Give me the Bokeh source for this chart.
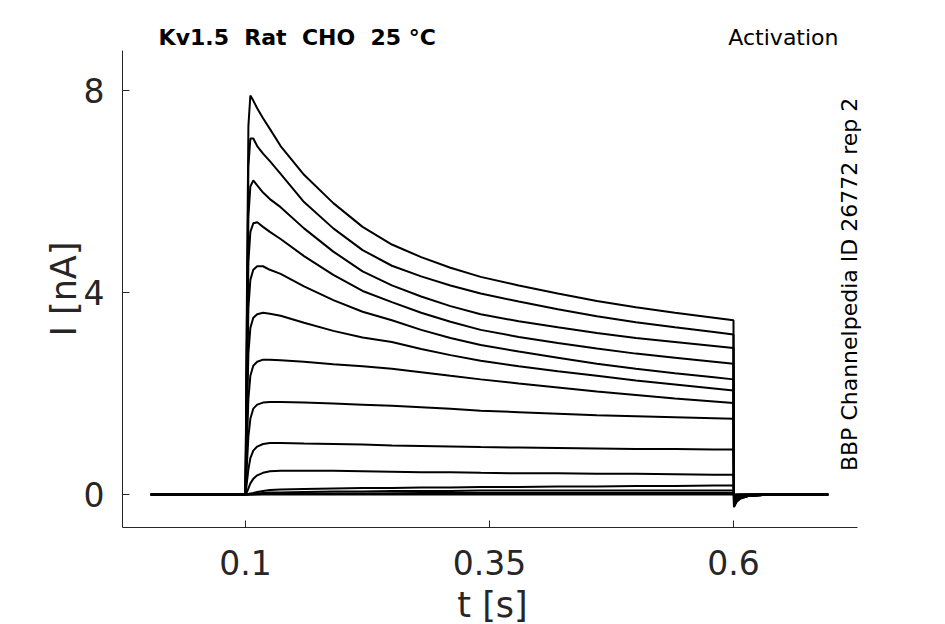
from bokeh.plotting import figure
from bokeh.models import Range1d, Label, FixedTicker
from bokeh.layouts import column
from bokeh.embed import file_html
from bokeh.resources import INLINE
import math

# time grid (s)
T_GRID = [0.003, 0.1, 0.1015, 0.103, 0.105, 0.108, 0.112, 0.118, 0.125, 0.136,
          0.16, 0.19, 0.22, 0.25, 0.28, 0.31, 0.341, 0.38, 0.42, 0.46,
          0.5, 0.54, 0.58, 0.6, 0.6005, 0.603, 0.607, 0.615, 0.63, 0.697]

# current traces (nA)
T1 = [0, 0, 4.0, 7.3, 7.9, 7.8, 7.65, 7.45, 7.24, 6.9, 6.33, 5.77, 5.30, 4.95, 4.70, 4.49, 4.31, 4.14, 3.98, 3.83, 3.71, 3.60, 3.50, 3.45, -0.25, -0.15, -0.08, -0.03, -0.01, 0]
T2 = [0, 0, 3.5, 6.5, 7.05, 7.05, 6.9, 6.75, 6.6, 6.35, 5.79, 5.27, 4.84, 4.53, 4.32, 4.14, 3.98, 3.82, 3.67, 3.53, 3.41, 3.31, 3.22, 3.17, -0.24, -0.14, -0.08, -0.03, -0.01, 0]
T3 = [0, 0, 3.0, 5.5, 6.1, 6.22, 6.12, 5.98, 5.85, 5.69, 5.27, 4.81, 4.42, 4.14, 3.92, 3.73, 3.57, 3.43, 3.31, 3.20, 3.10, 3.02, 2.94, 2.90, -0.22, -0.13, -0.07, -0.03, -0.01, 0]
T4 = [0, 0, 2.5, 4.6, 5.2, 5.37, 5.39, 5.3, 5.2, 5.06, 4.72, 4.35, 4.03, 3.81, 3.60, 3.42, 3.26, 3.12, 3.00, 2.89, 2.79, 2.71, 2.63, 2.59, -0.2, -0.12, -0.06, -0.02, -0.01, 0]
T5 = [0, 0, 2.0, 3.7, 4.25, 4.45, 4.52, 4.52, 4.45, 4.37, 4.12, 3.85, 3.62, 3.45, 3.26, 3.10, 2.96, 2.83, 2.71, 2.59, 2.49, 2.40, 2.32, 2.28, -0.18, -0.1, -0.05, -0.02, -0.01, 0]
T6 = [0, 0, 1.5, 2.8, 3.3, 3.5, 3.57, 3.6, 3.58, 3.54, 3.4, 3.24, 3.11, 3.02, 2.88, 2.76, 2.65, 2.54, 2.44, 2.35, 2.26, 2.18, 2.10, 2.06, -0.16, -0.09, -0.05, -0.02, -0.01, 0]
T7 = [0, 0, 1.0, 1.9, 2.35, 2.55, 2.63, 2.67, 2.67, 2.66, 2.63, 2.58, 2.54, 2.49, 2.42, 2.35, 2.28, 2.20, 2.12, 2.04, 1.97, 1.90, 1.84, 1.81, -0.14, -0.08, -0.04, -0.02, 0, 0]
T8 = [0, 0, 0.6, 1.15, 1.5, 1.7, 1.78, 1.82, 1.83, 1.83, 1.82, 1.8, 1.78, 1.76, 1.73, 1.7, 1.66, 1.63, 1.6, 1.57, 1.55, 1.53, 1.51, 1.50, -0.12, -0.07, -0.04, -0.01, 0, 0]
T9 = [0, 0, 0.25, 0.5, 0.72, 0.87, 0.95, 1.0, 1.02, 1.02, 1.01, 1.0, 0.99, 0.97, 0.96, 0.95, 0.94, 0.93, 0.92, 0.91, 0.9, 0.9, 0.89, 0.89, -0.08, -0.05, -0.03, -0.01, 0, 0]
T10 = [0, 0, 0.05, 0.12, 0.22, 0.31, 0.38, 0.43, 0.46, 0.47, 0.47, 0.47, 0.46, 0.45, 0.44, 0.44, 0.43, 0.42, 0.42, 0.41, 0.41, 0.40, 0.39, 0.39, -0.05, -0.03, -0.02, -0.01, 0, 0]
T11 = [0, 0, 0.005, 0.01, 0.02, 0.03, 0.05, 0.07, 0.09, 0.1, 0.11, 0.12, 0.13, 0.13, 0.14, 0.14, 0.15, 0.15, 0.16, 0.16, 0.17, 0.17, 0.18, 0.18, -0.03, -0.02, -0.01, 0, 0, 0]
T12 = [0, 0, 0, 0, 0.005, 0.01, 0.02, 0.03, 0.04, 0.04, 0.05, 0.06, 0.06, 0.07, 0.07, 0.07, 0.08, 0.08, 0.08, 0.08, 0.08, 0.08, 0.08, 0.08, -0.02, -0.01, 0, 0, 0, 0]
T13 = [0, 0, 0, 0, 0, 0, 0.005, 0.01, 0.01, 0.015, 0.02, 0.02, 0.02, 0.025, 0.03, 0.03, 0.03, 0.03, 0.03, 0.03, 0.03, 0.03, 0.03, 0.03, 0, 0, 0, 0, 0, 0]
T14 = [0, 0, 0, 0, 0, 0, 0, 0, 0, 0, 0, 0, 0, 0, 0, 0, 0, 0, 0, 0, 0, 0, 0, 0, -0.01, 0, 0, 0, 0, 0]
TRACES = [T1, T2, T3, T4, T5, T6, T7, T8, T9, T10, T11, T12, T13, T14]

XTICKS = [0.1, 0.35, 0.6]
XTICK_LABELS = ["0.1", "0.35", "0.6"]
YTICKS = [0, 4, 8]
YTICK_LABELS = ["0", "4", "8"]

NB = "\u00a0"
TITLE = "Kv1.5" + NB + " Rat" + NB + " CHO" + NB + " 25 \u00b0C"
PROTOCOL = "Activation"
SOURCE = "BBP Channelpedia ID 26772 rep 2"

FONT = "DejaVu Sans"
GREY = "#262626"

# drawn axis extents
X_AX = (-0.026, 0.727)
Y_AX = (-0.653, 8.792)
X_VIEW = (-0.026, 0.73219)

# ---- header strip holding the two title texts (frame aligned with the plot) ----
head = figure(frame_width=740, frame_height=50,
              x_range=Range1d(*X_VIEW), y_range=Range1d(0, 50),
              x_axis_location=None, y_axis_location=None,
              output_backend="svg", toolbar_location=None,
              min_border_left=122, min_border_right=58, min_border_top=0, min_border_bottom=0)
head.outline_line_color = None
head.grid.visible = False
head.background_fill_color = "white"
head.border_fill_color = "white"
head.add_layout(Label(x=0.011, y=1, text=TITLE, text_font=FONT, text_font_style="bold",
                      text_font_size="22px", text_color="black", text_baseline="bottom"))
head.add_layout(Label(x=0.7076, y=1, text=PROTOCOL, text_font=FONT,
                      text_font_size="22px", text_color="black", text_align="right",
                      text_baseline="bottom"))

# ---- main plot ----
p = figure(frame_width=740, frame_height=477,
           x_range=Range1d(*X_VIEW), y_range=Range1d(*Y_AX),
           output_backend="svg", toolbar_location=None,
           min_border_left=122, min_border_top=0, min_border_right=58, min_border_bottom=85)
p.outline_line_color = None
p.grid.visible = False
p.background_fill_color = "white"
p.border_fill_color = "white"

p.multi_line(xs=[T_GRID] * len(TRACES), ys=TRACES, line_color="black", line_width=2)

for ax in (p.xaxis[0], p.yaxis[0]):
    ax.axis_line_color = GREY
    ax.major_tick_line_color = GREY
    ax.major_tick_in = 7
    ax.major_tick_out = 0
    ax.minor_tick_line_color = None
    ax.major_label_text_font = FONT
    ax.major_label_text_color = GREY
    ax.major_label_text_font_size = "33px"
    ax.axis_label_text_font = FONT
    ax.axis_label_text_color = GREY
    ax.axis_label_text_font_size = "35px"
    ax.axis_label_text_font_style = "normal"

p.xaxis.bounds = X_AX
p.yaxis.bounds = Y_AX
p.xaxis.ticker = FixedTicker(ticks=XTICKS)
p.xaxis.major_label_overrides = dict(zip(XTICKS, XTICK_LABELS))
p.yaxis.ticker = FixedTicker(ticks=YTICKS)
p.yaxis.major_label_overrides = dict(zip(YTICKS, YTICK_LABELS))
p.xaxis.axis_label = "t [s]"
p.yaxis.axis_label = "I [nA]"
p.xaxis.major_label_standoff = 22
p.yaxis.major_label_standoff = 18
p.xaxis.axis_label_standoff = 7
p.yaxis.axis_label_standoff = -3

p.add_layout(Label(x=0.7188, y=4.16, text=SOURCE, text_font=FONT, angle=math.pi / 2,
                   text_font_size="22px", text_color="black", text_align="center",
                   text_baseline="middle"))

layout = column(head, p, spacing=0)
open("out.html", "w").write(file_html(layout, INLINE))
